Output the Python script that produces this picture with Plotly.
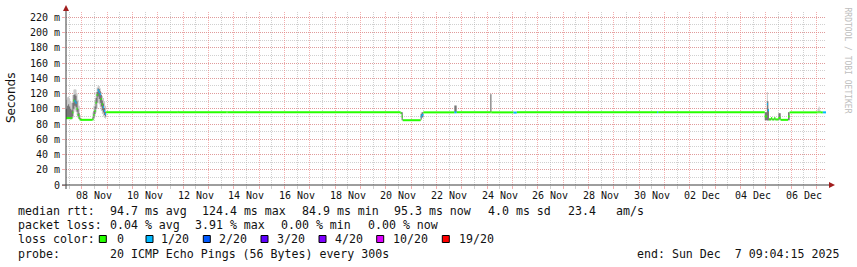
import pandas as pd
import plotly.graph_objects as go

# ---------------- data ----------------
START = pd.Timestamp("2025-11-07 09:04:15")
SPAN_DAYS = 30

# hours after START at which a new consolidated value begins
hours = [0, 1, 2, 3, 4, 5, 6, 7, 8, 9, 10, 11, 12, 13, 14,
         25, 26, 27, 28, 29, 30, 31, 32, 33, 34, 35, 36, 37, 38,
         106, 107, 152, 153,
         317, 318, 319, 336, 337, 338.5,
         368, 370, 402, 403, 424, 427, 560, 561,
         662, 664, 665, 666, 668, 669, 671, 672, 675, 677, 684, 685.5,
         712, 713, 714, 715, 717, 720]
median_ms = [88, 88, 88, 88, 87.5, 88, 95, 111, 110, 108, 100, 92, 88, 85.5, 85.5,
             86, 92, 97, 108, 118, 124.4, 122, 119, 113, 106, 102, 97, 93, 95.3,
             95.3, 95.3, 95.3, 95.3,
             94, 90, 85, 90, 92, 95.3,
             95.3, 95.3, 95.3, 95.3, 95, 95.3, 95.3, 95.3,
             90, 106, 98, 86, 88, 86, 88, 86, 88, 85.5, 90, 95.3,
             95.3, 95.3, 95.3, 95.3, 95.3, 95.3]
loss = [0, 0, 0, 0, 0, 0, 0, 0, 1, 1, 0, 0, 0, 0, 0,
        0, 0, 0, 0, 0, 1, 1, 1, 0, 0, 1, 1, 1, 0,
        0, 0, 0, 0,
        0, 0, 0, 1, 1, 0,
        1, 0, 0, 0, 1, 0, 1, 0,
        0, 1, 1, 0, 0, 0, 0, 0, 0, 0, 0, 0,
        0, 0, 0, 0, 1, 1]
smoke_lo = [86, 86, 86, 86, 86, 86, 88, 95, 98, 96, 92, 88, 86, 85, 85,
            85, 86, 90, 95, 100, 108, 106, 102, 97, 93, 90, 88, 87, 95.3,
            95.3, 95.3, 95.3, 95.3,
            93, 85, 84.9, 85, 88, 95.3,
            95, 95.3, 95.3, 95.3, 95, 95.3, 95.3, 95.3,
            85, 84, 84, 85, 85, 85, 85, 85, 85, 85, 85, 95.3,
            95.3, 95.3, 95.3, 95.3, 95.3, 95.3]
smoke_hi = [112, 115, 116, 113, 110, 108, 118, 125, 126, 125, 120, 112, 104, 92, 86.5,
            95, 104, 112, 122, 128, 131, 130, 127, 122, 117, 114, 110, 104, 95.3,
            97.5, 95.3, 97, 95.3,
            96, 95.5, 85.5, 95, 95.5, 95.3,
            105, 95.3, 120, 95.3, 96, 95.3, 96, 95.3,
            95.3, 122, 110, 88, 89, 87, 89, 87, 94, 86.5, 95.3, 95.3,
            100, 103, 98, 95.3, 95.3, 95.3]
core_lo = [87, 87, 87, 87, 87, 87, 90, 100, 104, 102, 96, 90, 87, 85.2, 85.5,
           85.5, 88, 93, 100, 108, 116, 113, 108, 103, 98, 95, 92, 90, 95.3,
           95.3, 95.3, 95.3, 95.3,
           93.5, 85, 84.9, 86, 89, 95.3,
           95, 95.3, 95.3, 95.3, 95, 95.3, 95.3, 95.3,
           85, 85, 85, 85.5, 86, 85.5, 86, 85.5, 86, 85.2, 85, 95.3,
           95.3, 95.3, 95.3, 95.3, 95.3, 95.3]
core_hi = [100, 104, 106, 103, 100, 98, 108, 118, 119, 117, 110, 100, 94, 88, 85.5,
           89, 97, 103, 114, 122, 127, 126, 123, 118, 111, 107, 101, 96, 95.3,
           95.3, 95.3, 95.3, 95.3,
           95.3, 95.3, 85.2, 93, 95.3, 95.3,
           104, 95.3, 119, 95.3, 95.5, 95.3, 95.3, 95.3,
           95.3, 110, 100, 87, 88, 86.5, 88, 86.5, 94, 86, 95.3, 95.3,
           95.3, 95.3, 95.3, 95.3, 95.3, 95.3]

y_tickvals = [0, 20, 40, 60, 80, 100, 120, 140, 160, 180, 200, 220]
y_ticktext = ["0", "20 m", "40 m", "60 m", "80 m", "100 m", "120 m", "140 m",
              "160 m", "180 m", "200 m", "220 m"]
x_labels = ["08 Nov", "10 Nov", "12 Nov", "14 Nov", "16 Nov", "18 Nov", "20 Nov",
            "22 Nov", "24 Nov", "26 Nov", "28 Nov", "30 Nov", "02 Dec", "04 Dec", "06 Dec"]
x_label_dates = ["2025-11-08", "2025-11-10", "2025-11-12", "2025-11-14", "2025-11-16",
                 "2025-11-18", "2025-11-20", "2025-11-22", "2025-11-24", "2025-11-26",
                 "2025-11-28", "2025-11-30", "2025-12-02", "2025-12-04", "2025-12-06"]

loss_levels = ["0", "1/20", "2/20", "3/20", "4/20", "10/20", "19/20"]
loss_colors = ["#26ff00", "#00b8ff", "#0059ff", "#5e00ff", "#7e00ff", "#dd00ff", "#ff0000"]

stats_rtt = ["94.7 ms avg", "124.4 ms max", "84.9 ms min", "95.3 ms now", "4.0 ms sd", "23.4", "am/s"]
stats_loss = ["0.04 % avg", "3.91 % max", "0.00 % min", "0.00 % now"]
probe_text = "20 ICMP Echo Pings (56 Bytes) every 300s"
end_text = "end: Sun Dec  7 09:04:15 2025"

# ---------------- figure ----------------
W, H = 857, 267
L, R, T, B = 66, 31, 12, 82
PW, PH = W - L - R, H - T - B

END = START + pd.Timedelta(days=SPAN_DAYS)
times = [START + pd.Timedelta(hours=h) for h in hours]

MONO = "DejaVu Sans Mono"
MAJOR = "rgba(235,120,120,0.6)"
MINOR = "rgba(170,170,170,0.55)"

fig = go.Figure()


def step_band(lo, hi):
    """Closed step-shaped outline between lo and hi (each value held until next time)."""
    xs, ys = [], []
    n = len(times)
    for k in range(n - 1):
        xs += [times[k], times[k + 1]]
        ys += [hi[k], hi[k]]
    for k in range(n - 2, -1, -1):
        xs += [times[k + 1], times[k]]
        ys += [lo[k], lo[k]]
    return xs, ys


# smoke: outer (light) and core (dark)
for lo, hi, col in [(smoke_lo, smoke_hi, "#cbcbcb"), (core_lo, core_hi, "#777777")]:
    bx, by = step_band(lo, hi)
    fig.add_trace(go.Scatter(x=bx, y=by, mode="lines", fill="toself", fillcolor=col,
                             line=dict(width=0, color=col, simplify=False),
                             hoverinfo="skip", showlegend=False))

# median line: horizontal step segments only, coloured by loss
for level in range(len(loss_colors)):
    xs, ys = [], []
    for k in range(len(hours) - 1):
        if loss[k] == level:
            xs += [times[k], times[k + 1], None]
            ys += [median_ms[k], median_ms[k], None]
    if xs:
        fig.add_trace(go.Scatter(x=xs, y=ys, mode="lines",
                                 line=dict(color=loss_colors[level], width=2, simplify=False),
                                 hoverinfo="skip", showlegend=False))

midnights = pd.date_range(START.normalize() + pd.Timedelta(days=1), END, freq="D")
noons = pd.date_range(START.normalize() + pd.Timedelta(hours=12), END, freq="D")

fig.update_layout(
    width=W, height=H, margin=dict(l=L, r=R, t=T, b=B),
    paper_bgcolor="white", plot_bgcolor="white",
    font=dict(family=MONO, size=10, color="#111"),
    showlegend=False,
    xaxis=dict(type="date", range=[START, END], tickvals=list(midnights),
               ticktext=[""] * len(midnights), showticklabels=False,
               showgrid=True, gridcolor=MAJOR, griddash="1px,1px", gridwidth=1,
               ticks="outside", ticklen=3, tickcolor=MAJOR,
               minor=dict(tickvals=list(noons), showgrid=True, gridcolor=MINOR,
                          griddash="1px,1px", ticks="outside", ticklen=3, tickcolor=MINOR),
               showline=False, zeroline=False, fixedrange=True),
    yaxis=dict(range=[0, 227], tickvals=y_tickvals, ticktext=y_ticktext,
               showgrid=True, gridcolor=MAJOR, griddash="1px,1px", gridwidth=1,
               ticks="outside", ticklen=3, tickcolor=MAJOR,
               tickfont=dict(family=MONO, size=10, color="#111"),
               minor=dict(dtick=10, tick0=0, showgrid=True, gridcolor=MINOR, griddash="1px,1px"),
               showline=False, zeroline=False, fixedrange=True),
)


def px(x):
    return (x - L) / PW


def py(y):
    return (T + PH - y) / PH


# x-axis labels centred at noon
for lab, d in zip(x_labels, x_label_dates):
    fig.add_annotation(x=pd.Timestamp(d) + pd.Timedelta(hours=12), xref="x", y=0, yref="paper",
                       yanchor="middle", yshift=-10, text=lab, showarrow=False,
                       font=dict(family=MONO, size=10, color="#111"))

# axes lines and arrows
AX = "#3c3c3c"
AR = "#a11d1d"
fig.add_shape(type="line", xref="paper", xsizemode="pixel", xanchor=0, x0=-4, x1=PW + 5,
              yref="paper", y0=0, y1=0, line=dict(color=AX, width=1))
fig.add_shape(type="line", yref="paper", ysizemode="pixel", yanchor=0, y0=-4, y1=PH + 5,
              xref="paper", x0=0, x1=0, line=dict(color=AX, width=1))
fig.add_shape(type="path", xref="paper", xsizemode="pixel", xanchor=0,
              yref="paper", ysizemode="pixel", yanchor=0,
              path=f"M -3 {PH+1} L 3 {PH+1} L 0 {PH+7} Z", fillcolor=AR, line=dict(width=0))
fig.add_shape(type="path", xref="paper", xsizemode="pixel", xanchor=0,
              yref="paper", ysizemode="pixel", yanchor=0,
              path=f"M {PW+3} -3 L {PW+3} 3 L {PW+9} 0 Z", fillcolor=AR, line=dict(width=0))

# y title
fig.add_annotation(x=px(11), y=py(98), xref="paper", yref="paper", text="Seconds",
                   textangle=-90, showarrow=False, xanchor="center", yanchor="middle",
                   font=dict(family="DejaVu Sans", size=12, color="#111"))

# watermark
fig.add_annotation(x=px(846.5), y=py(60), xref="paper", yref="paper",
                   text="RRDTOOL / TOBI OETIKER", textangle=90, showarrow=False,
                   xanchor="center", yanchor="middle",
                   font=dict(family=MONO, size=8, color="#bdbdbd"))

LF = 11.6


def txt(x, y, s, anchor="left"):
    fig.add_annotation(x=px(x), y=py(y), xref="paper", yref="paper", text=s,
                       xanchor=anchor, yanchor="middle", showarrow=False,
                       font=dict(family=MONO, size=LF, color="#111"))


rows = [211, 225.3, 239.3, 253.5]
txt(16, rows[0], "median rtt:")
for s, x in zip(stats_rtt, [107.7, 200, 300, 392, 485.7, 565.7, 614.3]):
    txt(x, rows[0], s)
txt(16, rows[1], "packet loss:")
for s, x in zip(stats_loss, [107.7, 193.3, 279.3, 365.7]):
    txt(x, rows[1], s)
txt(16, rows[2], "loss color:")
for s, c, sx, tx in zip(loss_levels, loss_colors,
                        [99.3, 146, 203.3, 261, 319, 376.7, 442.3],
                        [115, 159.3, 217.3, 275, 333.3, 390.7, 457.3]):
    fig.add_shape(type="rect", xref="paper", yref="paper",
                  x0=px(sx), x1=px(sx + 7), y0=py(242.5), y1=py(235.5),
                  fillcolor=c, line=dict(color="black", width=1))
    txt(tx, rows[2], s)
txt(16, rows[3], "probe:")
txt(107.7, rows[3], probe_text)
txt(841, rows[3], end_text, anchor="right")

fig.write_html("out.html", config={"displayModeBar": False})
